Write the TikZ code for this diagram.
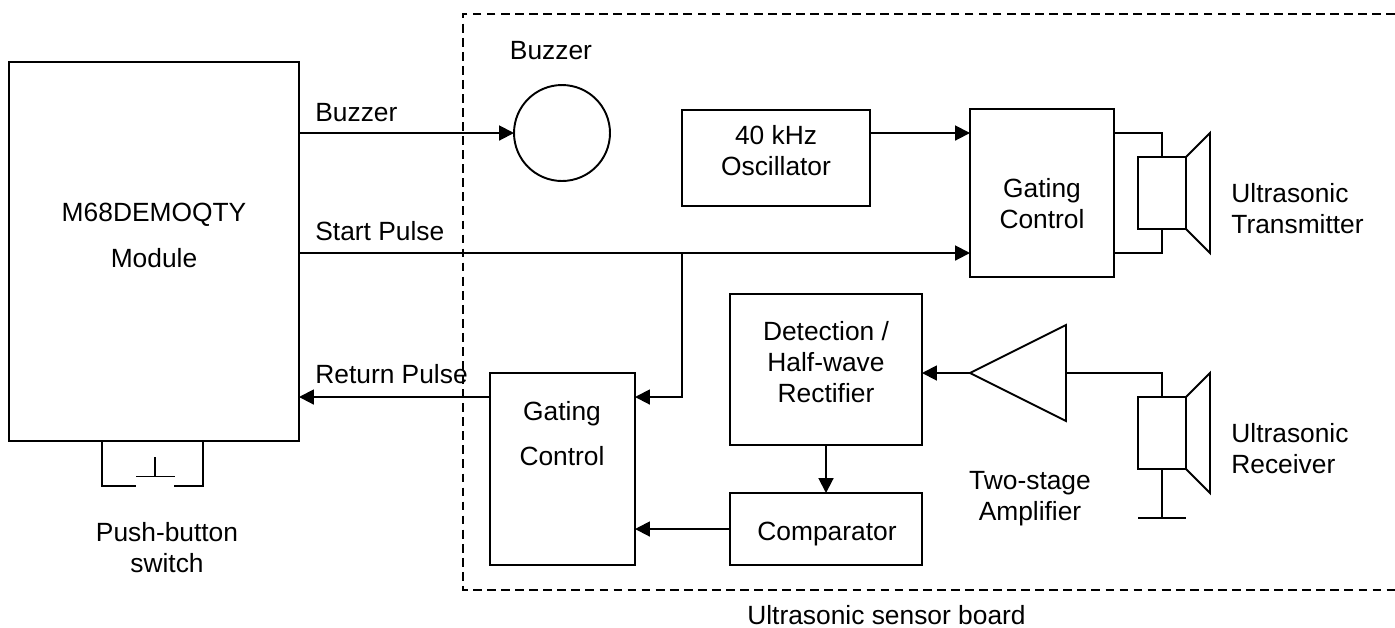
\documentclass[tikz,border=0pt]{standalone}
\usepackage{fontspec}
\setmainfont{Liberation Sans}
\usetikzlibrary{
  arrows.meta,
  calc
}
\tikzset{
  blockbox/.style={draw, line width=1.1pt, outer sep=0pt, inner sep=0pt},
  sigarrow/.style={-{Triangle[length=8.5pt, width=8.5pt]}, line width=1.1pt},
  wire/.style={line width=1.1pt},
  boardline/.style={line width=1.1pt, dash pattern=on 5pt off 3pt},
  lbl/.style={font=\fontsize{15}{17.6}\selectfont, align=center, inner sep=0pt, anchor=base},
  lbll/.style={lbl, align=left, anchor=base west}
}

\begin{document}
\begin{tikzpicture}[x=0.02cm, y=-0.02cm]
  \useasboundingbox (0,0) rectangle (1395,627);

  % sensor board outline
  \coordinate (boardtr) at (1395,14);
  \coordinate (boardtl) at (463,14);
  \coordinate (boardbl) at (463,590);
  \coordinate (boardbr) at (1395,590);
  \draw[boardline] (boardtr) -- (boardtl) -- (boardbl) -- (boardbr);
  \node[lbl] (boardlbl) at (886.5,624) {Ultrasonic sensor board};

  % blocks
  \node[blockbox, minimum width=5.8cm, minimum height=7.58cm] (module) at (154,251.5) {};
  \node[lbl] (modulea) at (154,221) {M68DEMOQTY};
  \node[lbl] (moduleb) at (154,267) {Module};
  \node[blockbox, circle, minimum size=1.92cm] (buzzer) at (562,133) {};
  \node[lbl] (buzzerlbl) at (551,59) {Buzzer};
  \node[blockbox, minimum width=3.76cm, minimum height=1.92cm] (osc) at (776,158) {};
  \node[lbl] (osclbl) at (776,175) {40 kHz\\Oscillator};
  \node[blockbox, minimum width=2.88cm, minimum height=3.36cm] (gatetx) at (1042,193) {};
  \node[lbl] (gatetxlbl) at (1042,228) {Gating\\Control};
  \node[blockbox, minimum width=3.84cm, minimum height=3.02cm] (detect) at (826,369.5) {};
  \node[lbl] (detectlbl) at (826,402) {Detection /\\Half-wave\\Rectifier};
  \node[blockbox, minimum width=3.84cm, minimum height=1.44cm] (compar) at (826,529) {};
  \node[lbl] (comparlbl) at (827,540) {Comparator};
  \node[blockbox, minimum width=2.9cm, minimum height=3.84cm] (gaterx) at (562.5,469) {};
  \node[lbl] (gaterxa) at (562,420) {Gating};
  \node[lbl] (gaterxb) at (562,465) {Control};

  % transmitter
  \node[blockbox, minimum width=0.96cm, minimum height=1.44cm] (txbody) at (1162,193) {};
  \coordinate (txtop) at (1210,133);
  \coordinate (txbot) at (1210,253);
  \draw[wire, line join=miter] (txbody.north east) -- (txtop) -- (txbot) -- (txbody.south east);
  \draw[wire] (gatetx.east |- txtop) -| (txbody.north);
  \draw[wire] (gatetx.east |- txbot) -| (txbody.south);
  \node[lbll] (txlbl) at (1231,233) {Ultrasonic\\Transmitter};

  % receiver
  \node[blockbox, minimum width=0.96cm, minimum height=1.44cm] (rxbody) at (1162,433) {};
  \coordinate (rxtop) at (1210,373);
  \coordinate (rxbot) at (1210,493);
  \draw[wire, line join=miter] (rxbody.north east) -- (rxtop) -- (rxbot) -- (rxbody.south east);
  \coordinate (gndmid) at (1162,518);
  \coordinate (gndl) at (1138,518);
  \coordinate (gndr) at (1186,518);
  \draw[wire] (rxbody.south) -- (gndmid);
  \draw[wire] (gndl) -- (gndr);
  \node[lbll] (rxlbl) at (1231,473) {Ultrasonic\\Receiver};

  % amplifier
  \coordinate (amptip) at (970,373);
  \coordinate (ampout) at (1066,373);
  \draw[wire, line join=miter] (amptip) -- (1066,325) -- (1066,421) -- cycle;
  \draw[wire] (ampout) -| (rxbody.north);
  \node[lbl] (amplbl) at (1030,520) {Two-stage\\Amplifier};

  % push-button
  \coordinate (swl) at (102,441);
  \coordinate (swr) at (203,441);
  \coordinate (swla) at (136,486);
  \coordinate (swra) at (174,486);
  \coordinate (swbl) at (136,476.5);
  \coordinate (swbr) at (175,476.5);
  \coordinate (swbm) at (155,476.5);
  \coordinate (swbt) at (155,457);
  \draw[wire] (swl) |- (swla);
  \draw[wire] (swr) |- (swra);
  \draw[wire] (swbl) -- (swbr);
  \draw[wire] (swbm) -- (swbt);
  \node[lbl] (swlbl) at (167,572) {Push-button\\switch};

  % signals
  \draw[sigarrow] (module.east |- buzzer.west) -- (buzzer.west);
  \node[lbll] (buzzersig) at (315,121) {Buzzer};
  \draw[sigarrow] (osc.east |- txtop) -- (gatetx.west |- txtop);
  \draw[sigarrow] (module.east |- txbot) -- (gatetx.west |- txbot);
  \node[lbll] (startsig) at (315,240) {Start Pulse};
  \coordinate (junc) at (682,253);
  \draw[sigarrow] (junc) |- (gaterx.east |- 0,397);
  \draw[sigarrow] (gaterx.west |- 0,397) -- (module.east |- 0,397);
  \node[lbll] (retsig) at (315,383) {Return Pulse};
  \draw[sigarrow] (amptip) -- (detect.east |- amptip);
  \draw[sigarrow] (detect.south) -- (compar.north);
  \draw[sigarrow] (compar.west) -- (gaterx.east |- compar.west);
\end{tikzpicture}
\end{document}
